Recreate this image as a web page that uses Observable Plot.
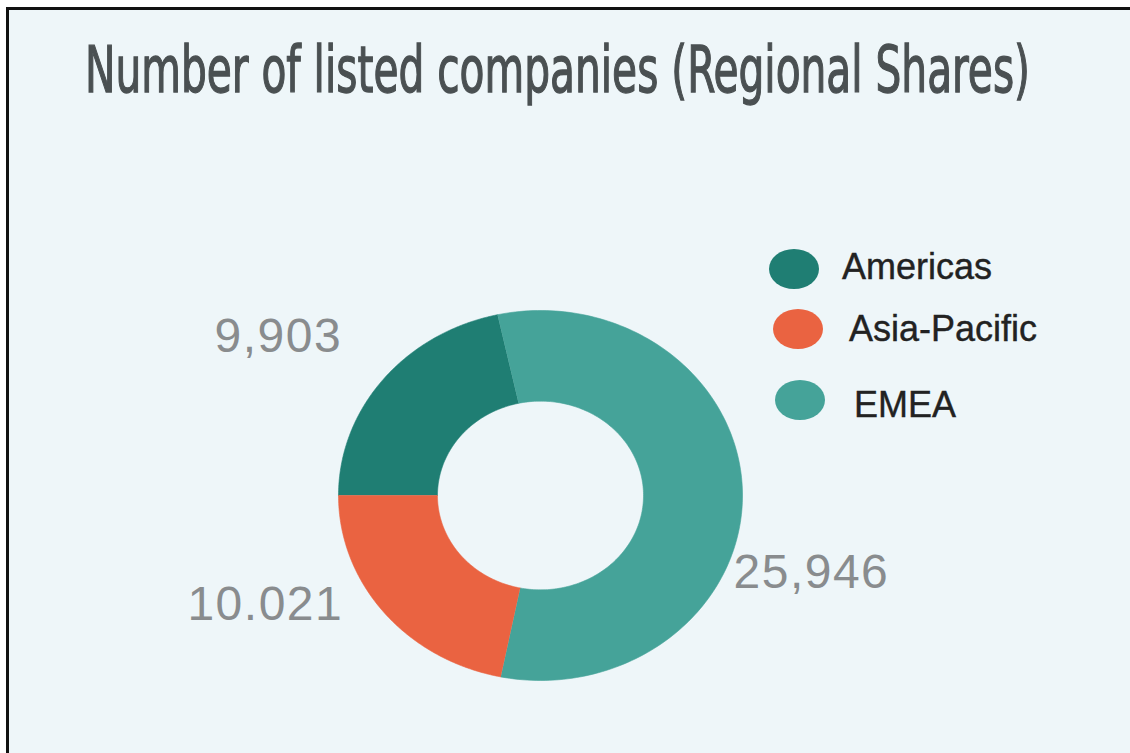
<!DOCTYPE html>
<html><head><meta charset="utf-8">
<script src="https://cdn.jsdelivr.net/npm/d3@7"></script>
<script src="https://cdn.jsdelivr.net/npm/@observablehq/plot@0.6"></script>
<style>
html,body{margin:0;padding:0;background:#fff;width:1130px;height:753px;overflow:hidden;position:relative;}
#frame{position:absolute;left:6px;top:7px;width:1124px;height:746px;border-top:3px solid #111;border-left:3px solid #111;background:#eef6f9;box-sizing:border-box;}
#title{position:absolute;left:85px;top:38px;font-family:"DejaVu Sans Condensed","DejaVu Sans",sans-serif;font-stretch:condensed;font-size:64px;line-height:1;color:#4a5052;-webkit-text-stroke:1.3px #4a5052;white-space:nowrap;transform-origin:0 0;}
#chart{position:absolute;left:9px;top:130px;}
.sw{position:absolute;width:50px;height:40px;border-radius:50%;}
.lt{position:absolute;font-family:"Liberation Sans",Arial,sans-serif;font-size:36px;line-height:36px;color:#222;-webkit-text-stroke:0.4px #222;white-space:nowrap;}
g[aria-label="text"] text{letter-spacing:1.5px;}
</style></head>
<body>
<div id="frame"></div>
<div id="title">Number of listed companies (Regional Shares)</div>
<div id="chart"></div>
<div id="legend"></div>
<script>
// ---- data ----
const regions = ["Americas", "Asia-Pacific", "EMEA"];
const values = [9903, 10021, 25946];
const valueLabels = ["9,903", "10.021", "25,946"];
const colors = ["#1f7e73", "#ea6341", "#45a399"];
const sliceOrder = ["Americas", "EMEA", "Asia-Pacific"];

// ---- geometry (derived from data) ----
const startAngle = 270 * Math.PI / 180; // clockwise from 12 o'clock
const innerRatio = 0.51;
const total = d3.sum(values);
const slices = [];
let a = startAngle;
for (const r of sliceOrder) {
  const i = regions.indexOf(r);
  const span = values[i] / total * 2 * Math.PI;
  slices.push({region: r, label: valueLabels[i], a0: a, a1: a + span, mid: a + span / 2});
  a += span;
}
const ring = [];
for (const s of slices) {
  const n = 160;
  for (let k = 0; k <= n; k++) { const t = s.a0 + (s.a1 - s.a0) * k / n; ring.push({region: s.region, x: Math.sin(t), y: Math.cos(t)}); }
  for (let k = n; k >= 0; k--) { const t = s.a0 + (s.a1 - s.a0) * k / n; ring.push({region: s.region, x: innerRatio * Math.sin(t), y: innerRatio * Math.cos(t)}); }
}

const labelStyle = {
  "Americas": {dx: -41, dy: -43, textAnchor: "end"},
  "Asia-Pacific": {dx: -41, dy: -8, textAnchor: "end"},
  "EMEA": {dx: -9, dy: 79, textAnchor: "start"}
};

const marks = [
  Plot.line(ring, {x: "x", y: "y", z: "region", fill: "region", stroke: "region", strokeWidth: 0.6})
];
for (const s of slices) {
  marks.push(Plot.text([s], {
    x: d => Math.sin(d.mid), y: d => Math.cos(d.mid), text: "label",
    ...labelStyle[s.region],
    fontSize: 48, fontFamily: "Liberation Sans, Arial, sans-serif", fill: "#898c8e"
  }));
}

const chart = Plot.plot({
  width: 1121, height: 616, margin: 0,
  x: {domain: [-1, 1], range: [329, 733], axis: null},
  y: {domain: [-1, 1], range: [550, 180], axis: null},
  color: {domain: regions, range: colors},
  style: {background: "transparent", overflow: "visible"},
  marks
});
document.getElementById("chart").appendChild(chart);

// ---- legend ----
const legendLayout = [
  {cx: 794, cy: 269, tx: 842, ty: 266},
  {cx: 798, cy: 329, tx: 849, ty: 328},
  {cx: 800, cy: 400, tx: 854, ty: 404}
];
const leg = document.getElementById("legend");
regions.forEach((r, i) => {
  const L = legendLayout[i];
  const sw = document.createElement("div");
  sw.className = "sw";
  sw.style.left = (L.cx - 25) + "px"; sw.style.top = (L.cy - 20) + "px";
  sw.style.background = colors[i];
  leg.appendChild(sw);
  const t = document.createElement("div");
  t.className = "lt"; t.textContent = r;
  t.style.left = L.tx + "px"; t.style.top = (L.ty - 17.5) + "px";
  leg.appendChild(t);
});

// ---- fit title width ----
const title = document.getElementById("title");
const w = title.getBoundingClientRect().width;
title.style.transform = `scaleX(${945 / w})`;
</script>
</body></html>
